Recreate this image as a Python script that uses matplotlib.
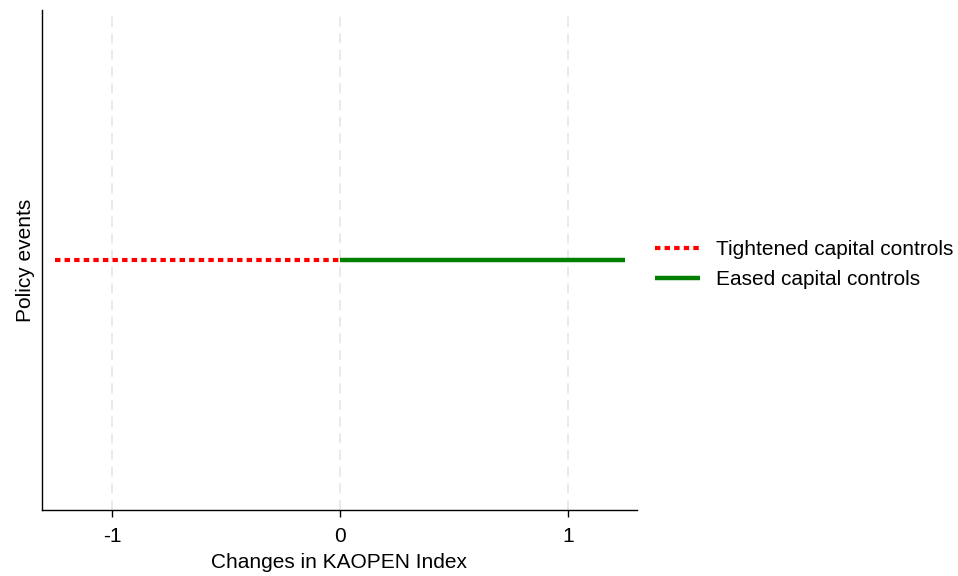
import matplotlib.pyplot as plt

plt.rcParams['font.family'] = ['Liberation Sans', 'DejaVu Sans']

# policy event segments along the KAOPEN change axis
tight_x = [-1.25, 0.0]
tight_y = [0, 0]
eased_x = [0.0, 1.25]
eased_y = [0, 0]
xticks = [-1, 0, 1]
labels = ['Tightened capital controls', 'Eased capital controls']

fig = plt.figure(figsize=(9.58, 5.76), dpi=100)
ax = fig.add_axes([0.0438, 0.1146, 0.6211, 0.868])

for t in xticks:
    ax.axvline(t, color='#e6e6e6', lw=1.2, ls=(0, (6, 4)), zorder=0)

ax.plot(tight_x, tight_y, color='red', lw=3.0, ls=(0, (1.3, 1.0)),
        solid_capstyle='butt', dash_capstyle='butt', label=labels[0])
ax.plot(eased_x, eased_y, color='green', lw=3.2, solid_capstyle='butt', label=labels[1])

ax.set_xlim(-1.307, 1.303)
ax.set_ylim(-1, 1)
ax.set_xticks(xticks)
ax.set_xticklabels([str(t) for t in xticks])
ax.set_yticks([])
ax.tick_params(axis='x', direction='out', length=5, width=1, labelsize=15, pad=7)
for s in ['top', 'right']:
    ax.spines[s].set_visible(False)
ax.spines['left'].set_linewidth(1)
ax.spines['bottom'].set_linewidth(1)

ax.set_xlabel('Changes in KAOPEN Index', fontsize=15, labelpad=5)
ax.set_ylabel('Policy events', fontsize=15, labelpad=5)

fig.legend(loc='center left', bbox_to_anchor=(0.6726, 0.5405), frameon=False,
           fontsize=15, handlelength=2.15, handletextpad=0.77, borderpad=0,
           labelspacing=0.5)

fig.savefig('out.png', dpi=100)
